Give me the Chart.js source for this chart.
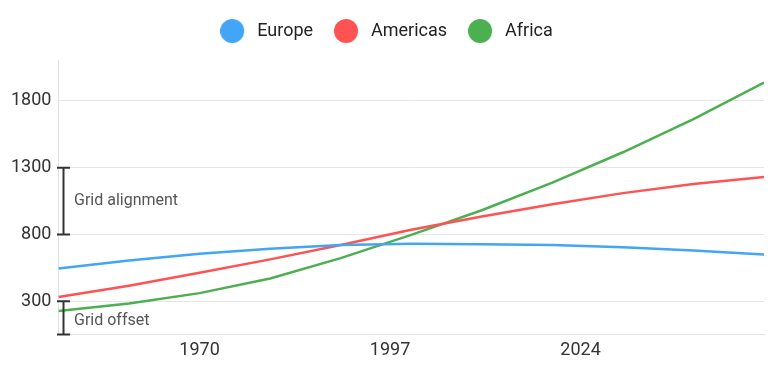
<!DOCTYPE html>
<html>
<head>
<meta charset="utf-8">
<script src="https://cdn.jsdelivr.net/npm/chart.js@4/dist/chart.umd.min.js"></script>
<style>
  html, body { margin: 0; padding: 0; background: #fff; }
  #wrap { width: 773px; height: 365px; }
</style>
</head>
<body>
<div id="wrap"><canvas id="chart"></canvas></div>
<script>
// population by continent, millions
const years = [1950, 1960, 1970, 1980, 1990, 2000, 2010, 2020, 2030, 2040, 2050];
const europe = [546, 605, 656, 694, 721, 730, 728, 721, 704, 680, 650];
const americas = [332, 417, 513, 614, 721, 836, 935, 1027, 1110, 1178, 1231];
const africa = [227, 283, 361, 471, 623, 797, 982, 1189, 1416, 1665, 1937];

const yTicks = [300, 800, 1300, 1800];
const xTicks = [1970, 1997, 2024];

Chart.defaults.font.family = "Roboto";
Chart.defaults.font.size = 18;
Chart.defaults.color = "#333";

// legend marker: circle drawn at the left of a wider image
function legendDot(color) {
  const c = document.createElement("canvas");
  c.width = 28;
  c.height = 28;
  const g = c.getContext("2d");
  g.fillStyle = color;
  g.beginPath();
  g.arc(12, 14, 12, 0, Math.PI * 2);
  g.fill();
  return c;
}

function series(label, values, color) {
  return {
    label,
    data: years.map((yr, i) => ({ x: yr, y: values[i] })),
    borderColor: color,
    backgroundColor: color,
    borderWidth: 2.5,
    pointRadius: 0,
    pointHoverRadius: 0,
    pointStyle: legendDot(color),
    tension: 0,
  };
}

// extra room under the legend, and nudge it to the page centre
const legendGap = {
  id: "legendGap",
  beforeInit(chart) {
    const fit = chart.legend.fit;
    chart.legend.fit = function () {
      fit.bind(chart.legend)();
      this.height += 10;
    };
  },
  afterLayout(chart) {
    chart.legend.left += 2.5;
    chart.legend.right += 2.5;
  },
};

// brackets + captions on the left of the plot
const gridNotes = {
  id: "gridNotes",
  afterDraw(chart) {
    const ctx = chart.ctx;
    const y = chart.scales.y;
    const bx = 63.5;
    function bracket(p1, p2) {
      ctx.beginPath();
      ctx.moveTo(bx, p1);
      ctx.lineTo(bx, p2);
      ctx.moveTo(bx - 6.5, p1);
      ctx.lineTo(bx + 6.5, p1);
      ctx.moveTo(bx - 6.5, p2);
      ctx.lineTo(bx + 6.5, p2);
      ctx.stroke();
      return (p1 + p2) / 2;
    }
    ctx.save();
    ctx.strokeStyle = "#333";
    ctx.lineWidth = 2;
    ctx.fillStyle = "#555";
    ctx.font = "16px Roboto";
    ctx.textAlign = "left";
    ctx.textBaseline = "middle";
    const m1 = bracket(y.getPixelForValue(1300), y.getPixelForValue(800));
    ctx.fillText("Grid alignment", 74, m1);
    const m2 = bracket(y.getPixelForValue(300), chart.chartArea.bottom);
    ctx.fillText("Grid offset", 74, m2 + 3);
    ctx.restore();
  },
};

new Chart(document.getElementById("chart"), {
  type: "line",
  data: {
    datasets: [
      series("Europe", europe, "#42a5f5"),
      series("Americas", americas, "#ff5252"),
      series("Africa", africa, "#4caf50"),
    ],
  },
  options: {
    responsive: true,
    maintainAspectRatio: false,
    animation: false,
    layout: { padding: { left: 4, right: 9, top: 1, bottom: -1 } },
    plugins: {
      legend: {
        position: "top",
        labels: {
          usePointStyle: true,
          pointStyleWidth: 28,
          padding: 21,
          color: "#222",
          font: { size: 18 },
        },
      },
      tooltip: { enabled: false },
    },
    scales: {
      x: {
        type: "linear",
        min: 1950,
        max: 2050,
        afterBuildTicks: (scale) => {
          scale.ticks = xTicks.map((v) => ({ value: v }));
        },
        grid: { display: false, drawTicks: false },
        border: { display: true, color: "#e3e3e3", width: 1 },
        ticks: { padding: 5, color: "#333", callback: (v) => String(v) },
      },
      y: {
        min: 52,
        max: 2107,
        afterBuildTicks: (scale) => {
          scale.ticks = yTicks.map((v) => ({ value: v }));
        },
        grid: { color: "#e6e6e6", drawTicks: false },
        border: { display: true, color: "#e3e3e3", width: 1 },
        ticks: { padding: 7, color: "#333", callback: (v) => String(v) },
      },
    },
  },
  plugins: [legendGap, gridNotes],
});
</script>
</body>
</html>
